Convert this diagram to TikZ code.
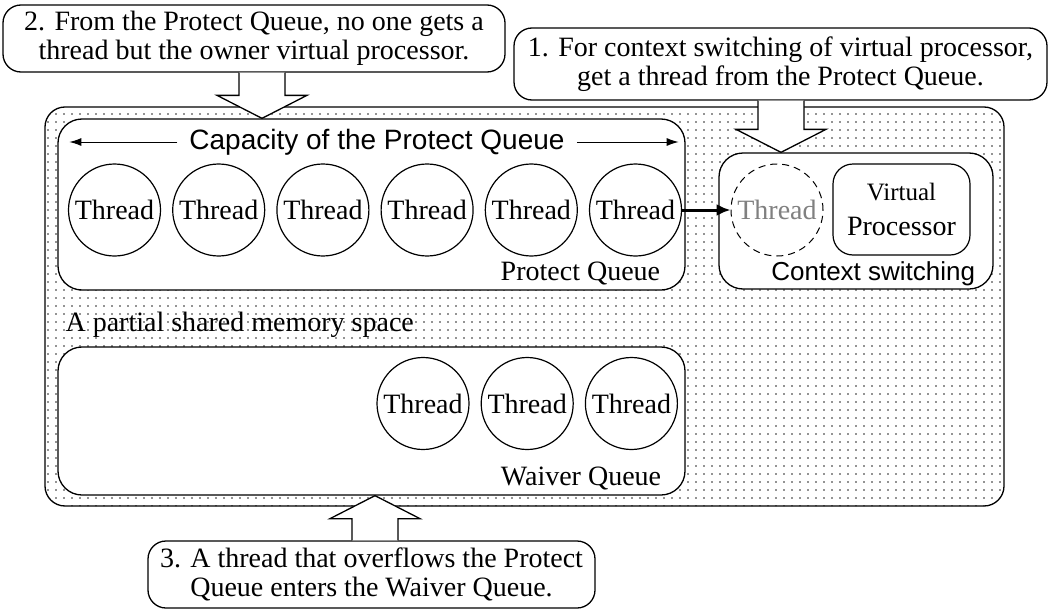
\documentclass[tikz,border=0pt]{standalone}
\usepackage{fontspec}
\setmainfont{Liberation Serif}
\setsansfont{Liberation Sans}
\usepackage{tikz}
\usetikzlibrary{positioning,calc,arrows.meta,patterns.meta}
\tikzstyle{thread} = [circle, draw, line width=1.2pt, minimum size=92pt, inner sep=0pt]
\tikzstyle{queue} = [rectangle, rounded corners=24pt, draw, line width=1.3pt, fill=white]
\tikzstyle{callout} = [rectangle, rounded corners=18pt, draw, line width=1.3pt, align=center, inner sep=0pt]
\tikzstyle{blockarr} = [draw, line width=1.3pt, fill=white]
\tikzstyle{sans} = [font=\fontsize{28}{30}\selectfont\sffamily]
\tikzstyle{capline} = [line width=1pt, -{Latex[length=12pt,width=8pt]}]
\tikzstyle{pass} = [line width=3pt, -{Latex[length=14pt,width=12pt]}]
\newcommand{\hollowarrow}[2]{%
  \path[blockarr] let \p1=(#1), \p2=(#2), \p3=($(#2)!23pt!(#1)$) in
    (\x1-23pt,\y1) -- (\x1-23pt,\y3) -- (\x1-45pt,\y3) -- (\x2,\y2)
    -- (\x1+45pt,\y3) -- (\x1+23pt,\y3) -- (\x1+23pt,\y1);
}
\begin{document}
\begin{tikzpicture}[x=1pt, y=-1pt, font=\fontsize{28}{29}\selectfont]
    \useasboundingbox (0,0) rectangle (1051,610);
    % shared memory space
    \node[rectangle, rounded corners=20pt, draw, line width=1.3pt,
          pattern={Dots[distance=8pt,radius=0.9pt]}, pattern color=black!85,
          minimum width=959pt, minimum height=399pt] (mem) at (524.5,306.5) {};
    \node[anchor=base west] (memlbl) at (62,331) {A partial shared memory space};
    % protect queue
    \node[queue, minimum width=627pt, minimum height=171pt] (pq) at (371.5,204.5) {};
    \node[anchor=base east] (pqlbl) at ($(pq.south east)+(-22,-10)$) {Protect Queue};
    \node[sans, inner xsep=12pt] (cap) at (377,142) {Capacity of the Protect Queue};
    \draw[capline] (cap.west) -- ($(pq.west |- cap)+(12,0)$);
    \draw[capline] (cap.east) -- ($(pq.east |- cap)+(-7,0)$);
    \node[thread] (t1) at (114.5,210) {Thread};
    \node[thread, right=11pt of t1] (t2) {Thread};
    \node[thread, right=11pt of t2] (t3) {Thread};
    \node[thread, right=11pt of t3] (t4) {Thread};
    \node[thread, right=11pt of t4] (t5) {Thread};
    \node[thread, right=11pt of t5] (t6) {Thread};
    % context switching
    \node[queue, minimum width=274pt, minimum height=136pt] (cs) at (856,221) {};
    \node[sans, font=\fontsize{26}{28}\selectfont\sffamily, anchor=base east] (cslbl) at ($(cs.south east)+(-15,-9)$) {Context switching};
    \node[thread, line width=1pt, dash pattern=on 7pt off 5pt, text=black!50] (tx) at (777,210) {Thread};
    \node[rectangle, rounded corners=20pt, draw, line width=1.2pt, minimum width=137pt, minimum height=91pt,
          align=center, font=\fontsize{28}{35}\selectfont] (vp) at (901.5,209.5) {{\fontsize{25}{30}\selectfont Virtual}\\Processor};
    \draw[pass] (t6) -- (tx);
    % waiver queue
    \node[queue, minimum width=627pt, minimum height=148pt] (wq) at (371.5,421) {};
    \node[anchor=base east] (wqlbl) at ($(wq.south east)+(-21,-10)$) {Waiver Queue};
    \node[thread] (w1) at (423,403.5) {Thread};
    \node[thread, right=11pt of w1] (w2) {Thread};
    \node[thread, right=11pt of w2] (w3) {Thread};
    % notes
    \node[callout, minimum width=502pt, minimum height=67pt] (note2) at (254,38.5) {2. From the Protect Queue, no one gets a\\thread but the owner virtual processor.};
    \node[callout, minimum width=533pt, minimum height=72pt] (note1) at (780.5,64) {1. For context switching of virtual processor,\\get a thread from the Protect Queue.};
    \node[callout, minimum width=447pt, minimum height=67pt] (note3) at (371.5,574.5) {3. A thread that overflows the Protect\\Queue enters the Waiver Queue.};
    \coordinate (a2) at (262,0);
    \coordinate (a1) at (781,0);
    \coordinate (a3) at (375,0);
    \hollowarrow{note2.south -| a2}{pq.north -| a2}
    \hollowarrow{note1.south -| a1}{cs.north -| a1}
    \hollowarrow{note3.north -| a3}{wq.south -| a3}
\end{tikzpicture}
\end{document}
